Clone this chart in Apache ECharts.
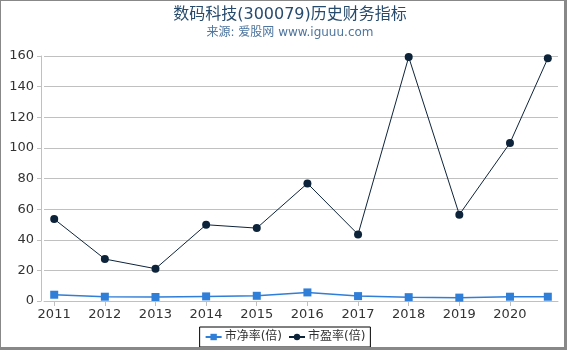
<!DOCTYPE html>
<html><head><meta charset="utf-8">
<script src="https://cdn.jsdelivr.net/npm/echarts@6/dist/echarts.min.js"></script>
<style>
html,body{margin:0;padding:0;background:#fff;}
#c{width:570px;height:350px;position:absolute;left:0;top:0;}
#frame{position:absolute;left:0;top:0;width:563px;height:346px;border-left:1px solid #888;border-top:1px solid #888;border-right:3px solid #888;border-bottom:3px solid #888;pointer-events:none;}
</style></head>
<body><div id="c"></div><div id="frame"></div>
<script>
const titleText = '数码科技(300079)历史财务指标';
const subtitleText = '来源: 爱股网 www.iguuu.com';
const dates = ['2010-12-31','2011-12-31','2012-12-31','2013-12-31','2014-12-31','2015-12-31','2016-12-31','2017-12-31','2018-12-31','2019-12-31','2020-09-30'];
const tickYears = [2011,2012,2013,2014,2015,2016,2017,2018,2019,2020];
const pbName = '市净率(倍)';
const peName = '市盈率(倍)';
const pbValues = [4.1, 2.8, 2.6, 3.0, 3.4, 5.6, 3.2, 2.5, 2.2, 2.8, 2.8];
const peValues = [53.5, 27.4, 21.1, 49.8, 47.6, 76.8, 43.5, 159.3, 56.4, 103.2, 158.5];

function toYear(d){
  const p = d.split('-').map(Number);
  return p[0] + (p[1]-1)/12 + p[2]/365;
}
const xs = dates.map(toYear);
const pbData = xs.map((x,i)=>[x,pbValues[i]]);
const peData = xs.map((x,i)=>[x,peValues[i]]);

const font = 'DejaVu Sans, Noto Sans CJK SC, sans-serif';
const chart = echarts.init(document.getElementById('c'), null, {renderer:'canvas'});
chart.setOption({
  animation:false,
  title:{
    text:titleText, subtext:subtitleText, left:285, textAlign:'center', top:2, itemGap:4,
    textStyle:{fontSize:16, fontWeight:'normal', color:'#274b6d', fontFamily:font},
    subtextStyle:{fontSize:12, color:'#4d759e', fontFamily:font}
  },
  legend:{
    data:[pbName, peName],
    left:'center', top:327, orient:'horizontal',
    borderColor:'#000', borderWidth:1, borderRadius:0, padding:[4,5,4,5],
    itemWidth:16, itemHeight:8, itemGap:6,
    textStyle:{fontSize:12, color:'#333', fontFamily:font, padding:[0,0,0,-2]}
  },
  grid:{left:44, right:12, top:56, bottom:49, containLabel:false},
  xAxis:{
    type:'value', min:2010.80, max:2020.95,
    splitLine:{show:false},
    axisLine:{show:true, lineStyle:{color:'#c0c0c0', width:1}},
    axisTick:{show:true, length:5, lineStyle:{color:'#c0c0c0'}, customValues:tickYears},
    axisLabel:{customValues:tickYears, formatter:v=>String(Math.round(v)), fontSize:13, color:'#333', margin:7, fontFamily:font}
  },
  yAxis:{
    type:'value', min:0, max:160, interval:20, offset:3,
    axisLine:{show:true, lineStyle:{color:'#c0c0c0', width:1}},
    axisTick:{show:true, length:4, lineStyle:{color:'#c0c0c0'}},
    splitLine:{show:true, lineStyle:{color:'#c0c0c0', width:1}},
    axisLabel:{fontSize:13, color:'#333', margin:7, fontFamily:font}
  },
  series:[
    {name:pbName, type:'line', data:pbData, symbol:'rect', symbolSize:8,
     itemStyle:{color:'#2f7ed8'}, lineStyle:{color:'#2f7ed8', width:1.5}},
    {name:peName, type:'line', data:peData, symbol:'circle', symbolSize:8,
     itemStyle:{color:'#0d233a'}, lineStyle:{color:'#0d233a', width:1}}
  ]
});
</script>
</body></html>
